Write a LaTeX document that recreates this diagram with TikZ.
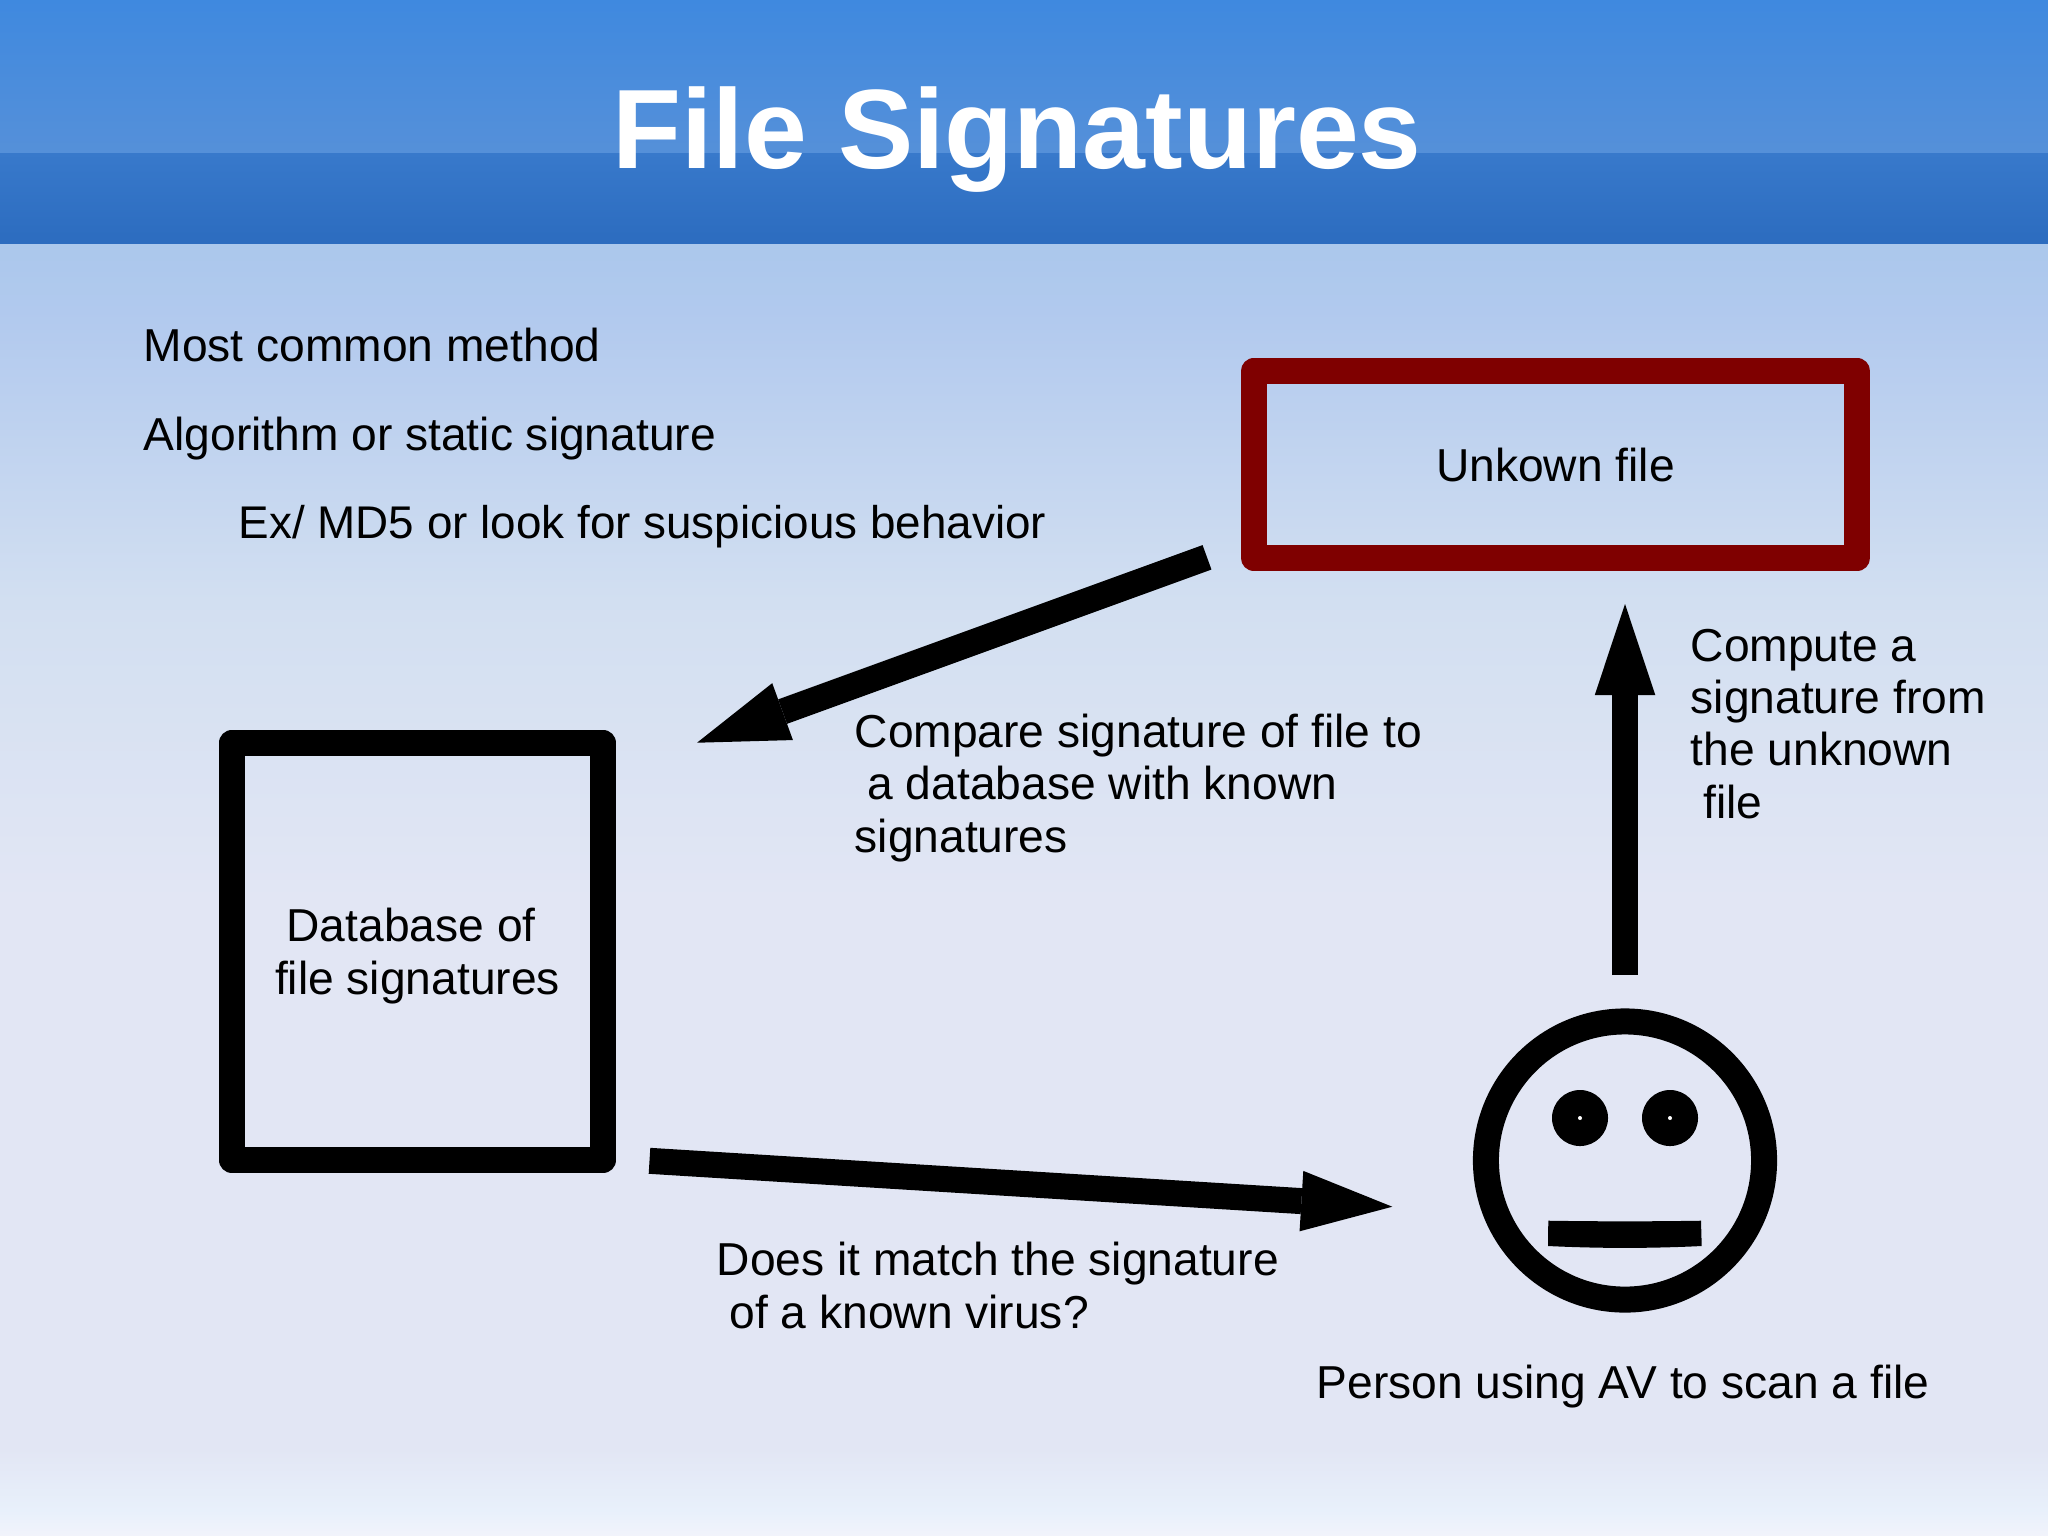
\documentclass[tikz,border=0pt]{standalone}
\usepackage{fontspec}
\setmainfont{Liberation Sans}
\usetikzlibrary{arrows.meta, positioning}
\definecolor{bandtop}{HTML}{3F89DF}
\definecolor{bandmid}{HTML}{5590D9}
\definecolor{banddark}{HTML}{3879CB}
\definecolor{bandlow}{HTML}{2C6CBF}
\definecolor{paperA}{HTML}{ABC8EC}
\definecolor{paperB}{HTML}{B1C9EE}
\definecolor{paperC}{HTML}{D2DFF1}
\definecolor{paperD}{HTML}{E2E6F4}
\definecolor{paperE}{HTML}{E8F0FB}
\definecolor{paperF}{HTML}{F1F3FB}
\definecolor{unknownred}{HTML}{7F0000}

\begin{document}
\begin{tikzpicture}[
  x=0.01cm, y=-0.01cm,
  node distance=0.43cm and 0.5cm,
  titletxt/.style={font=\fontsize{32.1}{36}\selectfont\bfseries, text=white, inner sep=0pt},
  bodytxt/.style={font=\fontsize{13.13}{14.85}\selectfont, inner sep=0pt,
                  text height=0.34cm, text depth=0.10cm, align=left},
  dbbox/.style={rectangle, draw=black, line width=0.26cm, line join=round,
                minimum width=3.71cm, minimum height=4.17cm, inner sep=0pt,
                font=\fontsize{13.13}{14.85}\selectfont, align=center},
  filebox/.style={dbbox, draw=unknownred, minimum width=6.03cm, minimum height=1.87cm},
  headring/.style={circle, draw=black, line width=0.26cm, minimum size=2.78cm, inner sep=0pt},
  eye/.style={circle, fill=black, minimum size=0.56cm, inner sep=0pt},
  pupil/.style={circle, fill=white, minimum size=0.04cm, inner sep=0pt},
  arr/.style={-{Triangle[length=0.91cm,width=0.605cm,line width=0pt]}, line width=0.26cm, color=black},
]
\useasboundingbox (0,0) rectangle (2048,1535);

%% BACKGROUND
\shade[top color=paperA, bottom color=paperB] (0,243) rectangle (2048,311);
\shade[top color=paperB, bottom color=paperC] (0,310) rectangle (2048,601);
\shade[top color=paperC, bottom color=paperD] (0,600) rectangle (2048,901);
\fill[paperD] (0,900) rectangle (2048,1449);
\shade[top color=paperD, bottom color=paperE] (0,1448) rectangle (2048,1511);
\shade[top color=paperE, bottom color=paperF] (0,1510) rectangle (2048,1535);
\shade[top color=bandtop, bottom color=bandmid] (0,0) rectangle (2048,153);
\shade[top color=banddark, bottom color=bandlow] (0,153) rectangle (2048,243);

%% TITLE
\node[titletxt, anchor=base] (title) at (1017,168) {File Signatures};

%% BODY TEXT
\node[bodytxt, anchor=north west] (common) at (143,327) {Most common method};
\node[bodytxt, below=of common.south west, anchor=north west] (algo) {Algorithm or static signature};
\node[bodytxt, below=of algo.south west, anchor=north west, xshift=0.95cm,
      font=\fontsize{13.03}{14.85}\selectfont] (example)
  {Ex/ MD5 or look for suspicious behavior};

%% BOXES
\node[filebox] (unknown) at (1555.5,464.5) {Unkown file};
\node[dbbox] (database) at (417.5,951.5) {};
\node[bodytxt, align=center, anchor=base] (databaselbl) at (417.5,994)
  {Database of\hspace{0.128cm} \\ file signatures};

%% FACE
\node[headring] (head) at (1625,1160.5) {};
\node[eye] (eyeL) at (1580,1118) {};
\node[eye] (eyeR) at (1670,1118) {};
\node[pupil] (pupilL) at (eyeL) {};
\node[pupil] (pupilR) at (eyeR) {};
\fill[black] (1548.3,1220.7) .. controls (1600,1221.5) and (1650,1221.5) .. (1701,1220.7)
  -- (1701.7,1246) .. controls (1650,1248.5) and (1600,1248.5) .. (1548,1246) -- cycle;
\node[bodytxt, below=0.51cm of head.south, xshift=-0.02cm] (person) {Person using AV to scan a file};

%% ARROW LABELS
\node[bodytxt, anchor=base west] (comparelbl) at (854,852)
  {Compare signature of file to \\ \hspace{0.128cm}a database with known \\ signatures};
\node[bodytxt, anchor=base west] (computelbl) at (1690,818)
  {Compute a \\ signature from \\ the unknown \\ \hspace{0.128cm}file};
\node[bodytxt, anchor=base west] (matchlbl) at (716,1328)
  {Does it match the signature \\ \hspace{0.128cm}of a known virus?};

%% ARROW ENDS
\coordinate (a1tail) at (1207,557.3);
\coordinate (a1tip) at (697,742.7);
\coordinate (a2tail) at (1625,975);
\coordinate (a2tip) at (1625,604);
\coordinate (a3tail) at (649.5,1160.8);
\coordinate (a3tip) at (1392.3,1206.7);

%% ARROWS
\draw[arr] (a1tail) -- (a1tip);
\draw[arr] (a2tail) -- (a2tip);
\draw[arr] (a3tail) -- (a3tip);

\end{tikzpicture}
\end{document}
